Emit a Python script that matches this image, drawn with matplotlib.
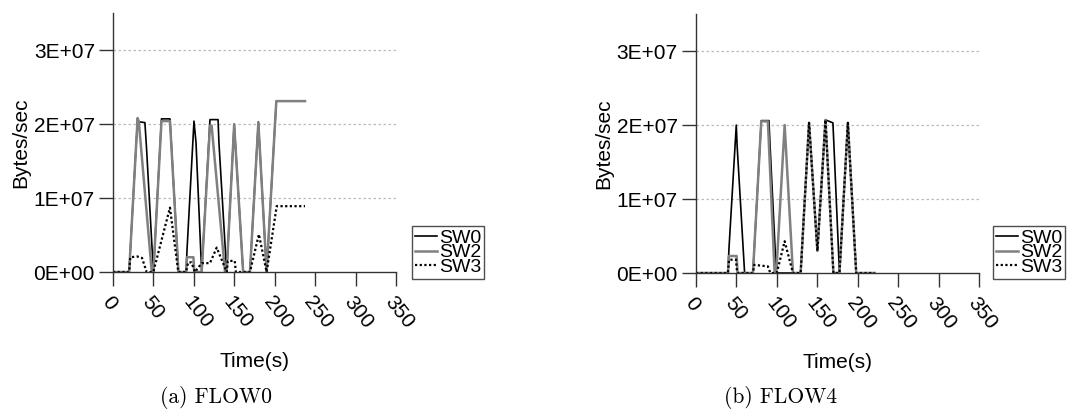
import matplotlib
matplotlib.use("Agg")
import matplotlib.pyplot as plt
from matplotlib.ticker import FuncFormatter

plt.rcParams["font.family"] = ["Liberation Sans", "DejaVu Sans"]

# FLOW0 (values in Bytes/sec, time in s)
F0_SW0_T = [0, 20, 21, 30.5, 32, 39.5, 41.5, 50, 60, 70.5, 81, 90.5, 91.5, 100.2, 102.7, 109.7,
            120, 130, 131, 140.6, 149.9, 161, 169.4, 179.8, 190, 202, 237.5]
F0_SW0_V = [0, 0, 0.2e7, 2.08e7, 2.03e7, 2.02e7, 1.68e7, 0, 2.07e7, 2.07e7, 0, 0, 0.28e7, 2.04e7, 1.75e7, 0,
            2.06e7, 2.06e7, 1.76e7, 0, 2.0e7, 0, 0, 2.03e7, 0, 2.31e7, 2.31e7]
F0_SW2_T = [0, 20, 21, 30.5, 32, 48, 50, 60, 70.5, 81, 90.5, 91.5, 99.5, 100.5, 109.7, 120, 122,
            138.6, 140.6, 149.9, 161, 169.4, 179.8, 190, 202, 237.5]
F0_SW2_V = [0, 0, 0.2e7, 2.08e7, 2.03e7, 0, 0, 2.04e7, 2.04e7, 0, 0, 0.2e7, 0.2e7, 0, 0, 1.98e7, 1.98e7,
            0, 0, 1.99e7, 0, 0, 2.02e7, 0, 2.31e7, 2.31e7]
F0_SW3_T = [0, 20, 21.5, 30, 36, 41.6, 49.9, 70.5, 80.8, 90.3, 93, 97, 101.4, 109.7, 120, 128.3,
            140.7, 142, 150.6, 152, 169.4, 180.5, 190, 202.5, 237.5]
F0_SW3_V = [0, 0, 0.2e7, 0.21e7, 0.19e7, 0, 0, 0.87e7, 0, 0, 0.13e7, 0.13e7, 0, 0.12e7, 0.12e7, 0.33e7,
            0, 0.15e7, 0.15e7, 0, 0, 0.51e7, 0, 0.89e7, 0.89e7]

# FLOW4
F4_SW0_T = [0, 39.6, 40.8, 49.9, 51, 60.2, 70.5, 80.8, 90.3, 91.5, 99.4, 129.5, 139.9, 150.2,
            160.2, 169.4, 170.5, 177.5, 187.9, 198.2, 221]
F4_SW0_V = [0, 0, 0.32e7, 2.0e7, 1.71e7, 0, 0, 2.06e7, 2.06e7, 1.76e7, 0, 0, 2.03e7, 0.3e7,
            2.07e7, 2.03e7, 1.76e7, 0, 2.03e7, 0, 0]
F4_SW2_T = [0, 39.6, 40.8, 50.3, 51.5, 70.5, 80.8, 89, 97.3, 99.4, 109.7, 120, 129.5, 139.9,
            150.2, 160.2, 170, 177.5, 187.9, 198.2, 221]
F4_SW2_V = [0, 0, 0.23e7, 0.23e7, 0, 0, 2.05e7, 2.05e7, 0, 0, 2.0e7, 0, 0, 2.03e7,
            0.3e7, 2.07e7, 0, 0, 2.03e7, 0, 0]
F4_SW3_T = [0, 39.6, 41, 49.5, 51, 70.5, 72, 89, 92, 100, 109.7, 120, 129.5, 139.9,
            150.2, 160.2, 170, 177.5, 187.9, 198.2, 221]
F4_SW3_V = [0, 0, 0.18e7, 0.18e7, 0, 0, 0.11e7, 0.09e7, 0, 0, 0.43e7, 0, 0, 2.03e7,
            0.3e7, 2.07e7, 0, 0, 2.03e7, 0, 0]

SERIES = ["SW0", "SW2", "SW3"]
X_TICKS = [0, 50, 100, 150, 200, 250, 300, 350]
Y_TICKS = [0, 1e7, 2e7, 3e7]
CAPTIONS = ["(a) FLOW0", "(b) FLOW4"]

AX_COL = "#333333"

fig = plt.figure(figsize=(10.84, 4.19), dpi=100)
fig.patch.set_facecolor("white")


def panel(rect, data, legend_xy, caption, cap_x):
    ax = fig.add_axes(rect)
    (t0, v0), (t2, v2), (t3, v3) = data
    ax.plot(t0, v0, color="black", lw=1.2, label=SERIES[0])
    ax.plot(t2, v2, color="#808080", lw=1.8, label=SERIES[1])
    ax.plot(t3, v3, color="black", lw=1.6, ls=(0, (1, 1.1)), label=SERIES[2])

    ax.set_xlim(0, 350)
    ax.set_ylim(0, 3.5e7)
    ax.set_xticks(X_TICKS)
    ax.set_yticks(Y_TICKS)
    ax.yaxis.set_major_formatter(FuncFormatter(lambda v, p: format(v, ".0E")))
    for y in Y_TICKS[1:]:
        ax.axhline(y, color="#bbbbbb", lw=0.9, ls=(0, (2, 2)), zorder=0)

    for s in ("top", "right"):
        ax.spines[s].set_visible(False)
    for s in ("left", "bottom"):
        ax.spines[s].set_color(AX_COL)
        ax.spines[s].set_linewidth(1.0)
    ax.tick_params(direction="out", length=10, width=1.0, color=AX_COL,
                   labelsize=15, pad=3)
    ax.tick_params(axis="x", pad=5)
    for lab in ax.get_xticklabels():
        lab.set_rotation(-52)
        lab.set_ha("left")
        lab.set_va("top")
        lab.set_rotation_mode("anchor")

    ax.set_xlabel("Time(s)", fontsize=15, labelpad=14)
    ax.set_ylabel("Bytes/sec", fontsize=15, labelpad=2)

    # tight legend rows, as in the source figure
    leg = ax.legend(loc="lower left", bbox_to_anchor=legend_xy, bbox_transform=fig.transFigure,
                    fontsize=14, frameon=True, fancybox=False, handlelength=1.15,
                    handletextpad=0.1, labelspacing=-0.15, borderpad=0.15, borderaxespad=0)
    leg.get_frame().set_edgecolor("#222222")
    leg.get_frame().set_linewidth(1.0)

    fig.text(cap_x, 0.052, caption, family="cmr10", fontsize=15.5, ha="center", va="center")
    return ax


panel([0.1042, 0.3508, 0.2611, 0.618],
      [(F0_SW0_T, F0_SW0_V), (F0_SW2_T, F0_SW2_V), (F0_SW3_T, F0_SW3_V)],
      (0.380, 0.334), CAPTIONS[0], 216 / 1084)
panel([0.642, 0.3484, 0.2611, 0.618],
      [(F4_SW0_T, F4_SW0_V), (F4_SW2_T, F4_SW2_V), (F4_SW3_T, F4_SW3_V)],
      (0.916, 0.334), CAPTIONS[1], 781 / 1084)

fig.savefig("out.png", dpi=100, facecolor="white")
